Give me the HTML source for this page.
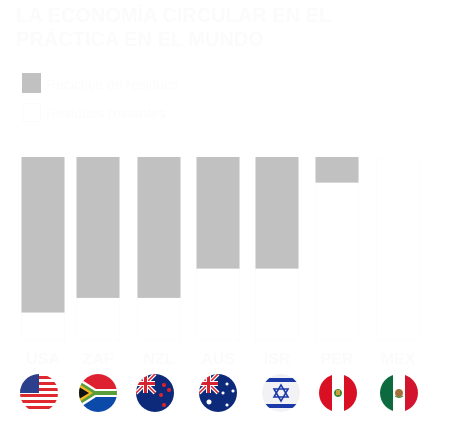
<!DOCTYPE html>
<html><head><meta charset="utf-8">
<style>
html,body{margin:0;padding:0;background:#fff;width:452px;height:435px;overflow:hidden;font-family:"Liberation Sans",sans-serif}
</style></head>
<body>
<svg id="chart" width="452" height="435" viewBox="0 0 452 435" xmlns="http://www.w3.org/2000/svg">
  <defs>
    <clipPath id="c0"><circle cx="0" cy="0" r="19"/></clipPath>
  </defs>
  <text x="16" y="22" font-size="20" font-weight="bold" fill="#fbfbfb">LA ECONOMÍA CIRCULAR EN EL</text>
  <text x="16" y="46" font-size="20" font-weight="bold" fill="#fbfbfb">PRÁCTICA EN EL MUNDO</text>
  <rect x="22" y="73" width="19" height="20" fill="#c1c1c1"/>
  <text x="46" y="89" font-size="14" fill="#fbfbfb">Reciclaje de residuos</text>
  <rect x="22.5" y="103.5" width="18" height="18" fill="none" stroke="#fbfbfb"/>
  <text x="46" y="118" font-size="14" fill="#fbfbfb">Residuos restantes</text>
  <g id="bars"></g>
  <g id="labels"></g>
  <g id="flags"></g>
</svg>
<script>
const categories = ["USA","ZAF","NZL","AUS","ISR","PER","MEX"];
const grayValues = [85, 77, 77, 61, 61, 14, 0];
const totalValues = [100, 100, 100, 100, 100, 100, 100];

const NS = "http://www.w3.org/2000/svg";
const centers = [43, 98, 159, 218, 277, 337, 398];
const top0 = 157, base = 340;
function yScale(v){ return top0 + (base - top0) * (1 - v/100); }
function hScale(v){ return (base - top0) * v/100; }

const bars = document.getElementById('bars');
const labels = document.getElementById('labels');
categories.forEach((c,i)=>{
  const x = centers[i] - 21.5;
  const w = document.createElementNS(NS,'rect');
  w.setAttribute('x', x); w.setAttribute('y', yScale(totalValues[i]));
  w.setAttribute('width', 43); w.setAttribute('height', hScale(totalValues[i]));
  w.setAttribute('fill', '#fff'); w.setAttribute('stroke', '#fcfcfc');
  
  
  bars.appendChild(w);
  if (grayValues[i] > 0) {
    const g = document.createElementNS(NS,'rect');
    g.setAttribute('x', x); g.setAttribute('y', top0);
    g.setAttribute('width', 43); g.setAttribute('height', hScale(grayValues[i]));
    g.setAttribute('fill', '#c1c1c1');
    
    
    bars.appendChild(g);
  }
  const t = document.createElementNS(NS,'text');
  t.setAttribute('x', centers[i]); t.setAttribute('y', 364);
  t.setAttribute('text-anchor','middle'); t.setAttribute('font-size','16');
  t.setAttribute('font-weight','bold'); t.setAttribute('fill','#fbfbfb');
  t.textContent = c;
  
  
  labels.appendChild(t);
});

const flagX = [39, 98, 155, 218, 281, 338, 399];
const flagSvg = {
 USA: '<rect x="-19" y="-19" width="38" height="38" fill="#fff"/>' +
   [-17,-11,-5,1,7,13].map(y=>'<rect x="-19" y="'+y+'" width="38" height="3" fill="#e0282f"/>').join('') +
   '<rect x="-19" y="-19" width="19" height="19" fill="#2b3f8c"/>',
 ZAF: '<rect x="-19" y="-19" width="38" height="19" fill="#de2130"/><rect x="-19" y="0" width="38" height="19" fill="#0b4aa8"/>' +
   '<path d="M-19,-15 L-2,-4 L19,-4 L19,4 L-2,4 L-19,15Z" fill="#fff"/><path d="M-19,-12 L-3,-2 L19,-2 L19,2 L-3,2 L-19,12Z" fill="#5a9e3a"/>' +
   '<path d="M-19,-9 L-5,0 L-19,9Z" fill="#f2b721"/><path d="M-19,-6 L-9,0 L-19,6Z" fill="#111"/>',
 NZL: '<rect x="-19" y="-19" width="38" height="38" fill="#0d2a7a"/>' +
   '<path d="M-19,-19L0,0M0,-19L-19,0" stroke="#fff" stroke-width="4"/><path d="M-19,-19L0,0M0,-19L-19,0" stroke="#d6232f" stroke-width="1.5"/>' +
   '<rect x="-12" y="-19" width="5" height="19" fill="#fff"/><rect x="-19" y="-12" width="19" height="5" fill="#fff"/>' +
   '<rect x="-11" y="-19" width="3" height="19" fill="#d6232f"/><rect x="-19" y="-11" width="19" height="3" fill="#d6232f"/>' +
   '<circle cx="9" cy="-8" r="2" fill="#d6232f"/><circle cx="14" cy="-3" r="2" fill="#d6232f"/><circle cx="6" cy="2" r="2" fill="#d6232f"/><circle cx="9" cy="12" r="2" fill="#d6232f"/>',
 AUS: '<rect x="-19" y="-19" width="38" height="38" fill="#0d2a7a"/>' +
   '<path d="M-19,-19L0,0M0,-19L-19,0" stroke="#fff" stroke-width="4"/><path d="M-19,-19L0,0M0,-19L-19,0" stroke="#d6232f" stroke-width="1.5"/>' +
   '<rect x="-12" y="-19" width="5" height="19" fill="#fff"/><rect x="-19" y="-12" width="19" height="5" fill="#fff"/>' +
   '<rect x="-11" y="-19" width="3" height="19" fill="#d6232f"/><rect x="-19" y="-11" width="19" height="3" fill="#d6232f"/>' +
   '<circle cx="-9" cy="9" r="2.5" fill="#fff"/><circle cx="9" cy="-9" r="1.5" fill="#fff"/><circle cx="15" cy="-2" r="1.5" fill="#fff"/><circle cx="5" cy="0" r="1.5" fill="#fff"/><circle cx="9" cy="12" r="1.5" fill="#fff"/>',
 ISR: '<rect x="-19" y="-19" width="38" height="38" fill="#f2f2f4"/><rect x="-19" y="-15" width="38" height="4" fill="#1b3aa8"/><rect x="-19" y="11" width="38" height="4" fill="#1b3aa8"/>' +
   '<path d="M0,-8L7,4L-7,4Z M0,8L7,-4L-7,-4Z" fill="none" stroke="#1b3aa8" stroke-width="1.6"/>',
 PER: '<rect x="-19" y="-19" width="38" height="38" fill="#fff"/><rect x="-19" y="-19" width="13" height="38" fill="#d91023"/><rect x="6" y="-19" width="13" height="38" fill="#d91023"/>' +
   '<circle cx="0" cy="0" r="4" fill="#3a8a3a"/><rect x="-2" y="-3" width="4" height="5" fill="#c9a23a"/>',
 MEX: '<rect x="-19" y="-19" width="38" height="38" fill="#fff"/><rect x="-19" y="-19" width="13" height="38" fill="#0b6b3f"/><rect x="6" y="-19" width="13" height="38" fill="#d3142e"/>' +
   '<circle cx="0" cy="0" r="4" fill="#a36f3a"/><path d="M-4,3 Q0,6 4,3" stroke="#3a8a3a" fill="none"/>'
};
const flags = document.getElementById('flags');
categories.forEach((c,i)=>{
  const g = document.createElementNS(NS,'g');
  g.setAttribute('transform','translate('+flagX[i]+',393)');
  g.innerHTML = '<g clip-path="url(#c0)">' + flagSvg[c] + '</g>';
  
  
  flags.appendChild(g);
});
</script>
</body></html>
